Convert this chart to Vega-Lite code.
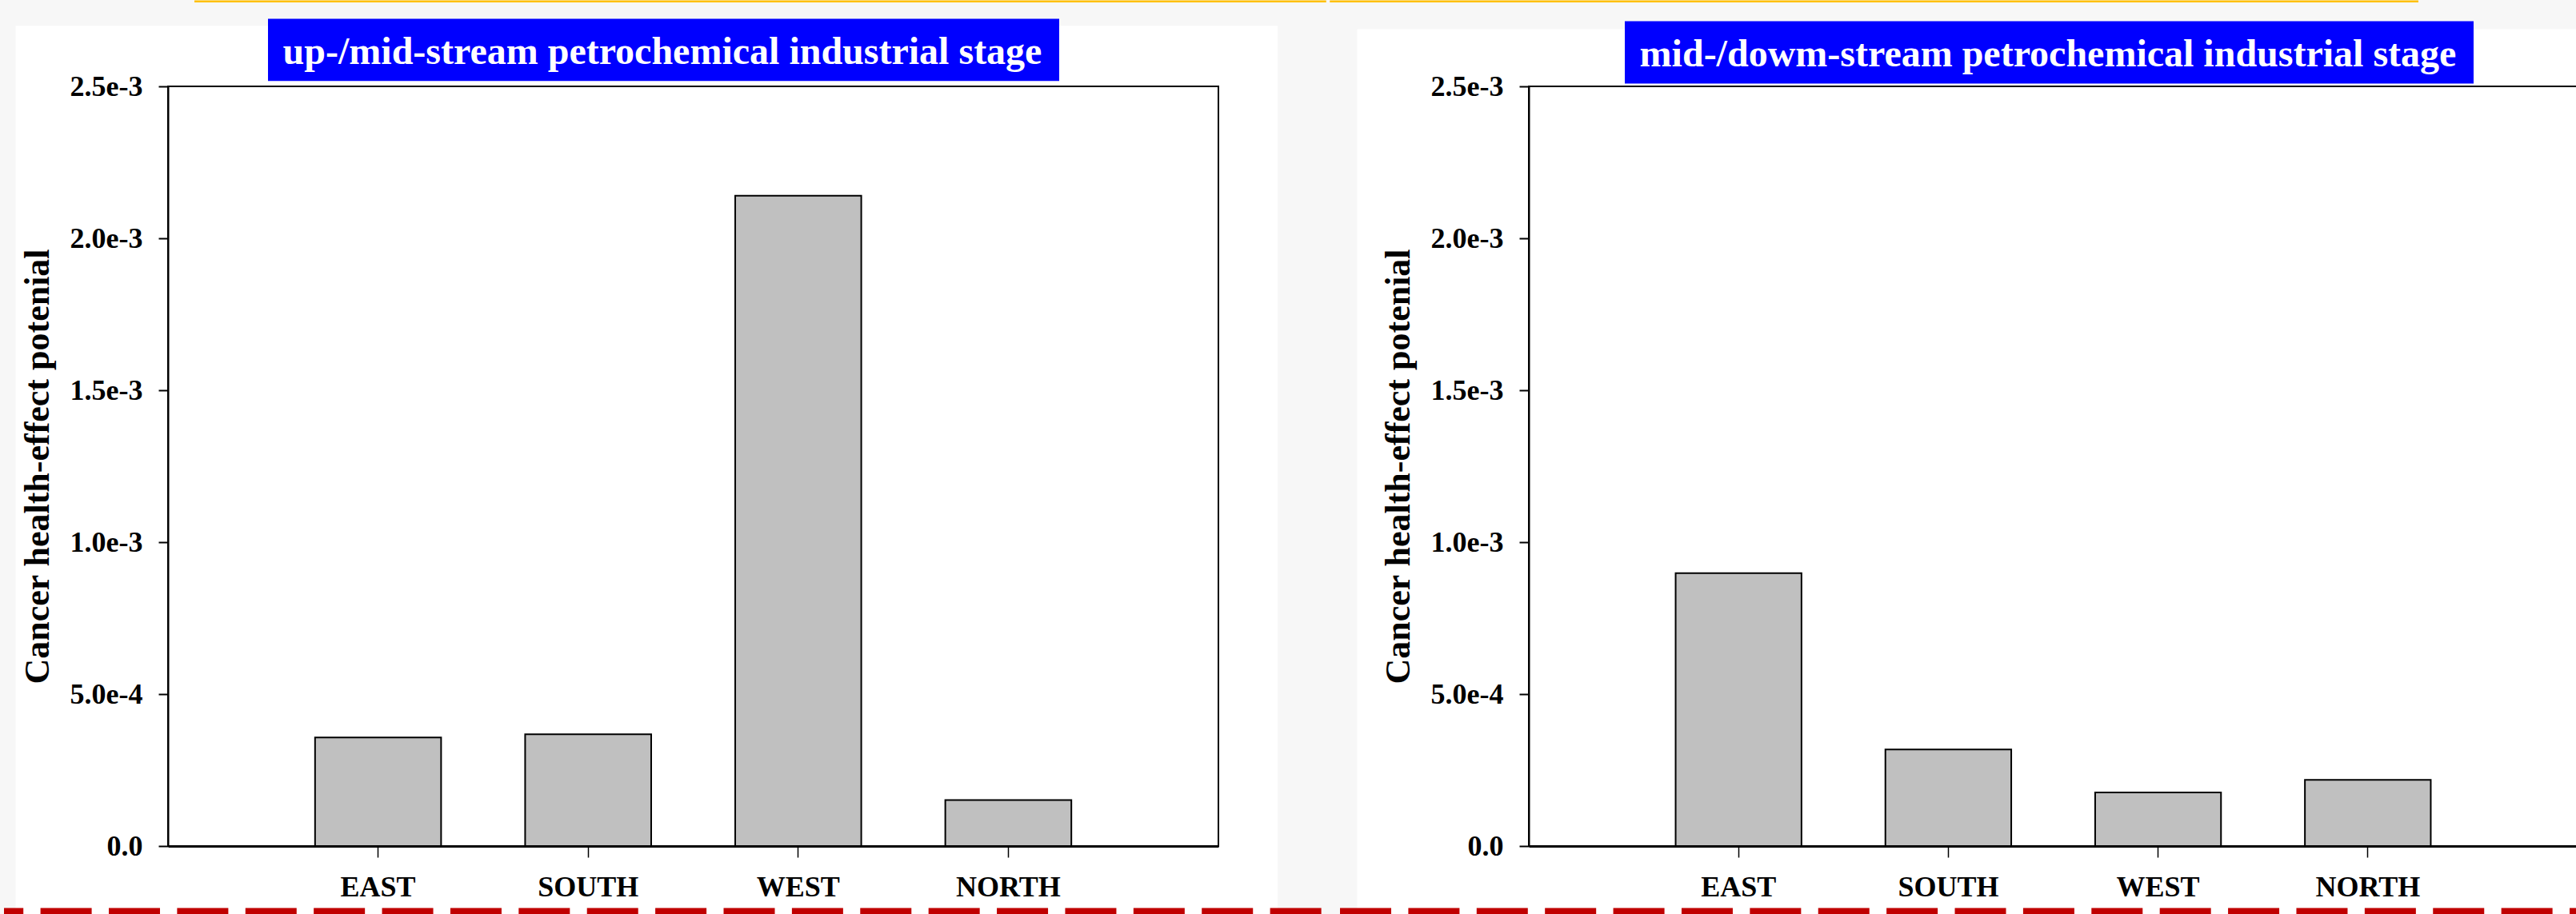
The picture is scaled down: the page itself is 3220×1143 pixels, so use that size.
{
  "$schema": "https://vega.github.io/schema/vega-lite/v6.json",
  "background": "#f7f7f7",
  "padding": 0,
  "autosize": {"type": "pad"},
  "spacing": 0,
  "config": {
    "view": {"stroke": null},
    "font": "Liberation Serif",
    "axis": {
      "labelFont": "Liberation Serif", "labelFontWeight": "bold", "labelFontSize": 36, "labelColor": "black",
      "titleFont": "Liberation Serif", "titleFontWeight": "bold", "titleFontSize": 44, "titleColor": "black",
      "domainColor": "black", "tickColor": "black", "grid": false
    },
    "axisY": {"tickSize": 12, "tickWidth": 2, "domainWidth": 2, "labelPadding": 20, "titlePadding": 18},
    "axisX": {"tickSize": 14, "tickWidth": 1.5, "domainWidth": 3, "labelPadding": 20, "labelAngle": 0}
  },
  "datasets": {
    "up": [
      {"region": "EAST", "value": 0.000357},
      {"region": "SOUTH", "value": 0.000368},
      {"region": "WEST", "value": 0.00214},
      {"region": "NORTH", "value": 0.000151}
    ],
    "down": [
      {"region": "EAST", "value": 0.000898},
      {"region": "SOUTH", "value": 0.000318},
      {"region": "WEST", "value": 0.000176},
      {"region": "NORTH", "value": 0.000218}
    ]
  },
  "hconcat": [
    {
      "width": 1313,
      "height": 950,
      "resolve": {"scale": {"x": "independent", "y": "independent"}, "axis": {"x": "independent", "y": "independent"}},
      "layer": [
        {
          "data": {"values": [{}]},
          "mark": {"type": "rect", "fill": "white"},
          "encoding": {
            "x": {"datum": -0.14501, "type": "quantitative", "scale": {"domain": [0, 1], "nice": false, "zero": false}, "axis": null},
            "x2": {"datum": 1.05636},
            "y": {"datum": 0.00269947, "type": "quantitative", "scale": {"domain": [0, 0.0025], "nice": false}, "axis": null},
            "y2": {"datum": -0.000225}
          }
        },
        {
          "data": {"values": [{}]},
          "mark": {"type": "rule", "stroke": "#ffc000", "strokeWidth": 2.5},
          "encoding": {
            "x": {"datum": 0.025133, "type": "quantitative", "scale": {"domain": [0, 1], "nice": false, "zero": false}, "axis": null},
            "x2": {"datum": 1.10263},
            "y": {"datum": 0.00277961, "type": "quantitative", "scale": {"domain": [0, 0.0025], "nice": false}, "axis": null}
          }
        },
        {
          "data": {"values": [{}]},
          "mark": {"type": "rule", "stroke": "#c00000", "strokeWidth": 8, "strokeDash": [64, 21.39], "strokeDashOffset": 39.79},
          "encoding": {
            "x": {"datum": -0.156131, "type": "quantitative", "scale": {"domain": [0, 1], "nice": false, "zero": false}, "axis": null},
            "x2": {"datum": 1.100533},
            "y": {"datum": -0.00021447, "type": "quantitative", "scale": {"domain": [0, 0.0025], "nice": false}, "axis": null}
          }
        },
        {
          "data": {"values": [{}]},
          "mark": {"type": "rect", "fill": "#0000ff"},
          "encoding": {
            "x": {"datum": 0.095202, "type": "quantitative", "scale": {"domain": [0, 1], "nice": false, "zero": false}, "axis": null},
            "x2": {"datum": 0.84844},
            "y": {"datum": 0.00272237, "type": "quantitative", "scale": {"domain": [0, 0.0025], "nice": false}, "axis": null},
            "y2": {"datum": 0.00251789}
          }
        },
        {
          "data": {"values": [{"title": "up-/mid-stream petrochemical industrial stage"}]},
          "mark": {"type": "text", "fill": "white", "font": "Liberation Serif", "fontWeight": "bold", "fontSize": 48, "align": "center", "baseline": "alphabetic"},
          "encoding": {
            "text": {"field": "title"},
            "x": {"datum": 0.47068, "type": "quantitative", "scale": {"domain": [0, 1], "nice": false, "zero": false}, "axis": null},
            "y": {"datum": 0.00257421, "type": "quantitative", "scale": {"domain": [0, 0.0025], "nice": false}, "axis": null}
          }
        },
        {
          "data": {"name": "up"},
          "mark": {"type": "bar", "fill": "#c0c0c0", "stroke": "black", "strokeWidth": 2},
          "encoding": {
            "x": {"field": "region", "type": "nominal", "sort": null, "scale": {"paddingInner": 0.4, "paddingOuter": 0.7}, "axis": {"title": null, "zindex": 2}},
            "y": {"field": "value", "type": "quantitative", "scale": {"domain": [0, 0.0025], "nice": false},
                  "axis": {"title": "Cancer health-effect potenial", "zindex": 2, "values": [0, 0.0005, 0.001, 0.0015, 0.002, 0.0025],
                           "labelExpr": "datum.value == 0 ? '0.0' : format(datum.value, '.1e')"}}
          }
        },
        {
          "data": {"values": [{}]},
          "mark": {"type": "rect", "filled": false, "stroke": "black", "strokeWidth": 2},
          "encoding": {
            "x": {"datum": 0, "type": "quantitative", "scale": {"domain": [0, 1], "nice": false, "zero": false}, "axis": null},
            "x2": {"datum": 1},
            "y": {"datum": 0.0025, "type": "quantitative", "scale": {"domain": [0, 0.0025], "nice": false}, "axis": null},
            "y2": {"datum": 0}
          }
        }
      ]
    },
    {
      "width": 1311,
      "height": 950,
      "resolve": {"scale": {"x": "independent", "y": "independent"}, "axis": {"x": "independent", "y": "independent"}},
      "layer": [
        {
          "data": {"values": [{}]},
          "mark": {"type": "rect", "fill": "white"},
          "encoding": {
            "x": {"datum": -0.163616, "type": "quantitative", "scale": {"domain": [0, 1], "nice": false, "zero": false}, "axis": null},
            "x2": {"datum": 1.003814},
            "y": {"datum": 0.00268816, "type": "quantitative", "scale": {"domain": [0, 0.0025], "nice": false}, "axis": null},
            "y2": {"datum": -0.000225}
          }
        },
        {
          "data": {"values": [{}]},
          "mark": {"type": "rule", "stroke": "#ffc000", "strokeWidth": 2.5},
          "encoding": {
            "x": {"datum": -0.189741, "type": "quantitative", "scale": {"domain": [0, 1], "nice": false, "zero": false}, "axis": null},
            "x2": {"datum": 0.848207},
            "y": {"datum": 0.00277961, "type": "quantitative", "scale": {"domain": [0, 0.0025], "nice": false}, "axis": null}
          }
        },
        {
          "data": {"values": [{}]},
          "mark": {"type": "rule", "stroke": "#c00000", "strokeWidth": 8, "strokeDash": [64, 21.39], "strokeDashOffset": 75.38},
          "encoding": {
            "x": {"datum": -0.187643, "type": "quantitative", "scale": {"domain": [0, 1], "nice": false, "zero": false}, "axis": null},
            "x2": {"datum": 1.000763},
            "y": {"datum": -0.00021447, "type": "quantitative", "scale": {"domain": [0, 0.0025], "nice": false}, "axis": null}
          }
        },
        {
          "data": {"values": [{}]},
          "mark": {"type": "rect", "fill": "#0000ff"},
          "encoding": {
            "x": {"datum": 0.091533, "type": "quantitative", "scale": {"domain": [0, 1], "nice": false, "zero": false}, "axis": null},
            "x2": {"datum": 0.900839},
            "y": {"datum": 0.00271447, "type": "quantitative", "scale": {"domain": [0, 0.0025], "nice": false}, "axis": null},
            "y2": {"datum": 0.00250921}
          }
        },
        {
          "data": {"values": [{"title": "mid-/dowm-stream petrochemical industrial stage"}]},
          "mark": {"type": "text", "fill": "white", "font": "Liberation Serif", "fontWeight": "bold", "fontSize": 48, "align": "center", "baseline": "alphabetic"},
          "encoding": {
            "text": {"field": "title"},
            "x": {"datum": 0.495042, "type": "quantitative", "scale": {"domain": [0, 1], "nice": false, "zero": false}, "axis": null},
            "y": {"datum": 0.00256526, "type": "quantitative", "scale": {"domain": [0, 0.0025], "nice": false}, "axis": null}
          }
        },
        {
          "data": {"name": "down"},
          "mark": {"type": "bar", "fill": "#c0c0c0", "stroke": "black", "strokeWidth": 2},
          "encoding": {
            "x": {"field": "region", "type": "nominal", "sort": null, "scale": {"paddingInner": 0.4, "paddingOuter": 0.7}, "axis": {"title": null, "zindex": 2}},
            "y": {"field": "value", "type": "quantitative", "scale": {"domain": [0, 0.0025], "nice": false},
                  "axis": {"title": "Cancer health-effect potenial", "zindex": 2, "values": [0, 0.0005, 0.001, 0.0015, 0.002, 0.0025],
                           "labelExpr": "datum.value == 0 ? '0.0' : format(datum.value, '.1e')"}}
          }
        },
        {
          "data": {"values": [{}]},
          "mark": {"type": "rect", "filled": false, "stroke": "black", "strokeWidth": 2},
          "encoding": {
            "x": {"datum": 0, "type": "quantitative", "scale": {"domain": [0, 1], "nice": false, "zero": false}, "axis": null},
            "x2": {"datum": 1},
            "y": {"datum": 0.0025, "type": "quantitative", "scale": {"domain": [0, 0.0025], "nice": false}, "axis": null},
            "y2": {"datum": 0}
          }
        }
      ]
    }
  ]
}
